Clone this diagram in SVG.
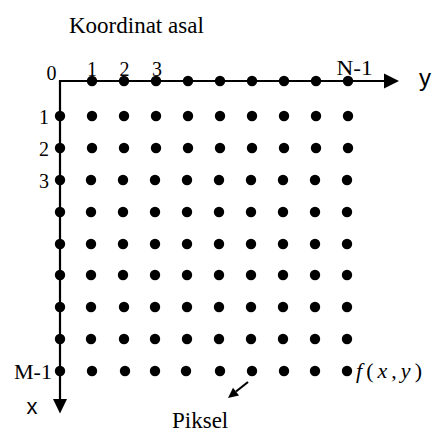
<svg xmlns="http://www.w3.org/2000/svg" width="432" height="434" viewBox="0 0 432 434">
<style>
.serif{font-family:"Liberation Serif","Times New Roman",serif;fill:#000}
.sans{font-family:"Liberation Sans",Arial,sans-serif;fill:#000}
.ax{stroke:#000;stroke-width:2.2;fill:none}
.dot{fill:#000}
</style>
<defs>
<circle id="d" r="5.2" class="dot"/>
</defs>
<rect width="432" height="434" fill="#fff"/>
<text id="title" class="serif" x="69" y="33" font-size="23">Koordinat asal</text>
<g id="connectors">
<line class="ax" x1="59" y1="81" x2="386" y2="81"/>
<polygon points="384,73.5 399,81 384,88.5" fill="#000"/>
<line class="ax" x1="60" y1="80" x2="60" y2="401"/>
<polygon points="53,399 67,399 60,413.5" fill="#000"/>
<line class="ax" x1="248" y1="382" x2="236" y2="391.5" stroke-width="2.2"/>
<polygon points="228,398 239,395.5 233,387.8" fill="#000"/>
</g>
<g id="axis-labels">
<text class="serif" font-size="20" x="56.5" y="80" text-anchor="end">0</text>
<text class="serif" font-size="20" x="92" y="76" text-anchor="middle">1</text>
<text class="serif" font-size="20" x="124.5" y="76" text-anchor="middle">2</text>
<text class="serif" font-size="20" x="157" y="76" text-anchor="middle">3</text>
<text class="serif" font-size="20" x="354.5" y="75" text-anchor="middle" textLength="36" lengthAdjust="spacingAndGlyphs">N-1</text>
<text class="sans" font-size="24" x="419" y="86">y</text>
<text class="serif" font-size="20" x="49" y="124" text-anchor="end">1</text>
<text class="serif" font-size="20" x="49" y="156" text-anchor="end">2</text>
<text class="serif" font-size="20" x="49" y="188" text-anchor="end">3</text>
<text class="serif" font-size="20" x="52" y="379" text-anchor="end" textLength="38" lengthAdjust="spacingAndGlyphs">M-1</text>
<text class="sans" font-size="22" x="26.5" y="414">x</text>
</g>
<g id="pixels">
<use href="#d" x="92" y="81"/><use href="#d" x="124" y="81"/><use href="#d" x="156" y="81"/><use href="#d" x="188" y="81"/><use href="#d" x="220" y="81"/><use href="#d" x="252" y="81"/><use href="#d" x="284" y="81"/><use href="#d" x="316" y="81"/><use href="#d" x="348" y="81"/>
<use href="#d" x="60" y="116"/><use href="#d" x="92" y="116"/><use href="#d" x="124" y="116"/><use href="#d" x="156" y="116"/><use href="#d" x="188" y="116"/><use href="#d" x="220" y="116"/><use href="#d" x="252" y="116"/><use href="#d" x="284" y="116"/><use href="#d" x="316" y="116"/><use href="#d" x="348" y="116"/>
<use href="#d" x="60" y="148"/><use href="#d" x="92" y="148"/><use href="#d" x="124" y="148"/><use href="#d" x="156" y="148"/><use href="#d" x="188" y="148"/><use href="#d" x="220" y="148"/><use href="#d" x="252" y="148"/><use href="#d" x="284" y="148"/><use href="#d" x="316" y="148"/><use href="#d" x="348" y="148"/>
<use href="#d" x="60" y="180"/><use href="#d" x="91" y="180"/><use href="#d" x="123" y="180"/><use href="#d" x="155" y="180"/><use href="#d" x="187" y="180"/><use href="#d" x="219" y="180"/><use href="#d" x="251" y="180"/><use href="#d" x="283" y="180"/><use href="#d" x="315" y="180"/><use href="#d" x="347" y="180"/>
<use href="#d" x="60" y="212"/><use href="#d" x="91" y="212"/><use href="#d" x="123" y="212"/><use href="#d" x="155" y="212"/><use href="#d" x="187" y="212"/><use href="#d" x="219" y="212"/><use href="#d" x="251" y="212"/><use href="#d" x="283" y="212"/><use href="#d" x="315" y="212"/><use href="#d" x="347" y="212"/>
<use href="#d" x="60" y="244"/><use href="#d" x="91" y="244"/><use href="#d" x="123" y="244"/><use href="#d" x="155" y="244"/><use href="#d" x="187" y="244"/><use href="#d" x="219" y="244"/><use href="#d" x="251" y="244"/><use href="#d" x="283" y="244"/><use href="#d" x="315" y="244"/><use href="#d" x="347" y="244"/>
<use href="#d" x="60" y="275"/><use href="#d" x="91" y="275"/><use href="#d" x="123" y="275"/><use href="#d" x="155" y="275"/><use href="#d" x="187" y="275"/><use href="#d" x="219" y="275"/><use href="#d" x="251" y="275"/><use href="#d" x="283" y="275"/><use href="#d" x="315" y="275"/><use href="#d" x="347" y="275"/>
<use href="#d" x="60" y="307"/><use href="#d" x="91" y="307"/><use href="#d" x="124" y="307"/><use href="#d" x="155" y="307"/><use href="#d" x="187" y="307"/><use href="#d" x="219" y="307"/><use href="#d" x="251" y="307"/><use href="#d" x="283" y="307"/><use href="#d" x="315" y="307"/><use href="#d" x="347" y="307"/>
<use href="#d" x="60" y="339"/><use href="#d" x="91" y="339"/><use href="#d" x="124" y="339"/><use href="#d" x="155" y="339"/><use href="#d" x="187" y="339"/><use href="#d" x="219" y="339"/><use href="#d" x="251" y="339"/><use href="#d" x="283" y="339"/><use href="#d" x="315" y="339"/><use href="#d" x="347" y="339"/>
<use href="#d" x="60" y="371"/><use href="#d" x="92" y="371"/><use href="#d" x="125" y="371"/><use href="#d" x="155" y="371"/><use href="#d" x="186" y="371"/><use href="#d" x="220" y="371"/><use href="#d" x="252" y="371"/><use href="#d" x="284" y="371"/><use href="#d" x="315" y="371"/><use href="#d" x="347" y="371"/>
</g>
<g id="labels">
<text id="fxy" class="serif" font-size="22" x="356" y="378" textLength="66" lengthAdjust="spacing"><tspan font-style="italic">f</tspan>(<tspan font-style="italic">x</tspan>,<tspan font-style="italic">y</tspan>)</text>
<text id="piksel" class="serif" font-size="23" x="172" y="428">Piksel</text>
</g>
</svg>
